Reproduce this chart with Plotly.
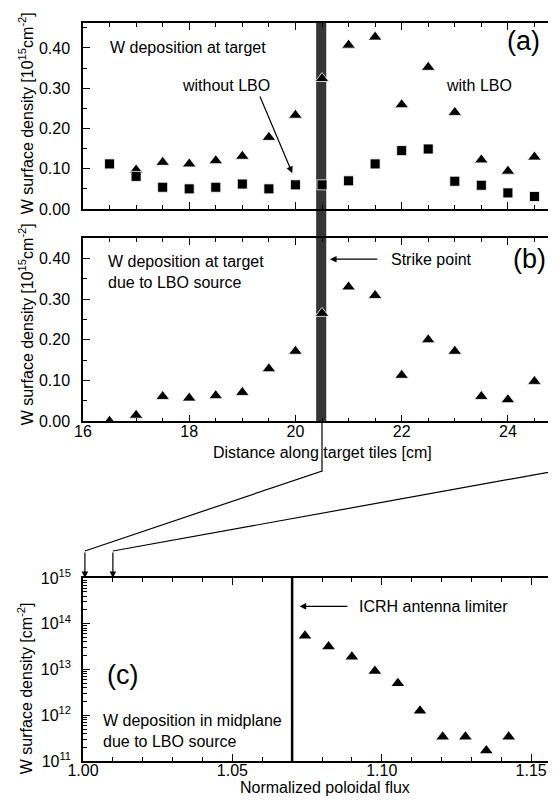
import plotly.graph_objects as go

# ---------------- data ----------------
pos_cm = [16.5, 17.0, 17.5, 18.0, 18.5, 19.0, 19.5, 20.0, 20.5,
          21.0, 21.5, 22.0, 22.5, 23.0, 23.5, 24.0, 24.5]
# panel (a): W deposition at target [1e15 cm^-2]
with_lbo = [None, 0.097, 0.116, 0.112, 0.120, 0.131, 0.178, 0.233, 0.324,
            0.407, 0.427, 0.259, 0.352, 0.240, 0.122, 0.094, 0.129]
without_lbo = [0.112, 0.081, 0.054, 0.050, 0.054, 0.062, 0.050, 0.060, 0.060,
               0.070, 0.112, 0.145, 0.149, 0.069, 0.059, 0.040, 0.031]
# panel (b): deposition due to LBO source
lbo_source = [0.0, 0.015, 0.061, 0.057, 0.063, 0.071, 0.129, 0.172, 0.265,
              0.330, 0.309, 0.113, 0.200, 0.172, 0.061, 0.053, 0.098]
# panel (c): midplane deposition
flux = [1.0743, 1.0822, 1.0900, 1.0977, 1.1054, 1.1128, 1.1204, 1.1280, 1.1350, 1.1425]
midplane = [5.5e13, 3.2e13, 1.9e13, 9.3e12, 5.0e12, 1.25e12, 3.4e11, 3.4e11, 1.7e11, 3.4e11]

strike_band = [20.39, 20.58]
strike_x = 20.5
limiter_flux = 1.07
log_tickvals = [1e11, 1e12, 1e13, 1e14, 1e15]
log_ticktext = ["10<sup>11</sup>", "10<sup>12</sup>", "10<sup>13</sup>",
                "10<sup>14</sup>", "10<sup>15</sup>"]

# ---------------- layout geometry ----------------
W, H = 556, 800
ML, MR, MT, MB = 75, 1, 15, 47
PW, PH = W - ML - MR, H - MT - MB


def px(p):
    return (p - ML) / PW


def py(p):
    return (H - MB - p) / PH


FONT = "Liberation Sans, Arial, Helvetica, sans-serif"
BLACK = "black"

fig = go.Figure()

mk_tri = dict(symbol="triangle-up", size=12, color=BLACK, line=dict(color="white", width=0.8))
mk_sq = dict(symbol="square", size=10, color=BLACK, line=dict(color="white", width=0.8))

fig.add_trace(go.Scatter(x=pos_cm, y=with_lbo, mode="markers", marker=mk_tri,
                         xaxis="x", yaxis="y", name="with LBO"))
fig.add_trace(go.Scatter(x=pos_cm, y=without_lbo, mode="markers", marker=mk_sq,
                         xaxis="x", yaxis="y", name="without LBO"))
fig.add_trace(go.Scatter(x=pos_cm, y=lbo_source, mode="markers", marker=mk_tri,
                         xaxis="x2", yaxis="y2", name="LBO source"))
fig.add_trace(go.Scatter(x=flux, y=midplane, mode="markers",
                         marker=dict(symbol="triangle-up", size=11, color=BLACK),
                         xaxis="x3", yaxis="y3", name="midplane"))

common = dict(showline=True, linecolor=BLACK, linewidth=1.5, mirror="ticks",
              ticks="inside", ticklen=7, tickwidth=1.2, tickcolor=BLACK,
              showgrid=False, zeroline=False,
              tickfont=dict(family=FONT, size=16, color=BLACK))

fig.update_layout(
    width=W, height=H,
    margin=dict(l=ML, r=MR, t=MT, b=MB),
    paper_bgcolor="white", plot_bgcolor="white",
    showlegend=False,
    font=dict(family=FONT, size=16, color=BLACK),
    xaxis=dict(domain=[0, 1], range=[16, 25], anchor="y", tick0=16, dtick=2,
               showticklabels=False,
               minor=dict(dtick=0.5, ticks="inside", ticklen=4, tickcolor=BLACK), **common),
    yaxis=dict(domain=[py(201), 1], range=[0, 0.462], anchor="x", dtick=0.1,
               tickformat=".2f", ticklabelstandoff=8,
               minor=dict(dtick=0.05, ticks="inside", ticklen=4, tickcolor=BLACK), **common),
    xaxis2=dict(domain=[0, 1], range=[16, 25], anchor="y2", tick0=16, dtick=2,
                ticklabelstandoff=-5,
                minor=dict(dtick=0.5, ticks="inside", ticklen=4, tickcolor=BLACK), **common),
    yaxis2=dict(domain=[py(413.3), py(230)], range=[0, 0.45], anchor="x2", dtick=0.1,
                tickformat=".2f", ticklabelstandoff=8,
                minor=dict(dtick=0.05, ticks="inside", ticklen=4, tickcolor=BLACK), **common),
    xaxis3=dict(domain=[0, 1], range=[1.0, 1.16], anchor="y3", dtick=0.05, tick0=1.0,
                tickformat=".2f", ticklabelstandoff=-6,
                minor=dict(dtick=0.01, ticks="inside", ticklen=4, tickcolor=BLACK), **common),
    yaxis3=dict(domain=[0, py(570)], type="log", range=[11, 15], anchor="x3",
                tickvals=log_tickvals, ticktext=log_ticktext, ticklabelstandoff=7,
                minor=dict(dtick="D1", ticks="inside", ticklen=4, tickcolor=BLACK), **common),
)

shapes = []
# strike point band through panels (a) and (b)
shapes.append(dict(type="rect", xref="x", yref="paper", x0=strike_band[0], x1=strike_band[1],
                   y0=py(413.3), y1=1.0, fillcolor="#353535", line=dict(width=0), layer="below"))
# ICRH antenna limiter
shapes.append(dict(type="line", xref="x3", yref="y3 domain", x0=limiter_flux, x1=limiter_flux,
                   y0=0, y1=1, line=dict(color=BLACK, width=2.5)))
fig.update_layout(shapes=shapes)

# connector lines from (b) to (c)
x_sp = px(ML + (strike_x - 16) / 9 * PW)
x_c0 = (1.00 - 1.0) / 0.16 + 0.004
x_c1 = (1.01 - 1.0) / 0.16
fig.add_shape(type="path", xref="paper", yref="paper",
              path=f"M {x_sp},{py(413.3)} L {x_sp},{py(463)} L {x_c0},{py(543)}",
              line=dict(color=BLACK, width=1.2))
fig.add_shape(type="path", xref="paper", yref="paper",
              path=f"M 1.0,{py(413.3)} L 1.0,{py(462)} L {x_c1},{py(543)}",
              line=dict(color=BLACK, width=1.2))

ann = []
for xc in (x_c0, x_c1):
    ann.append(dict(xref="paper", yref="paper", x=xc, y=py(570), ax=0, ay=-27,
                    text="", showarrow=True, arrowhead=2, arrowsize=1.1, arrowwidth=1.2,
                    arrowcolor=BLACK))


def txt(text, x, y, xr, yr, size=16, xanchor="left", yanchor="middle"):
    return dict(text=text, x=x, y=y, xref=xr, yref=yr, showarrow=False,
                xanchor=xanchor, yanchor=yanchor, align="left",
                font=dict(family=FONT, size=size, color=BLACK))


def arrow(x, y, ax, ay, xr, yr):
    return dict(x=x, y=y, ax=ax, ay=ay, xref=xr, yref=yr, axref=xr, ayref=yr,
                text="", showarrow=True, arrowhead=2, arrowsize=1.1, arrowwidth=1.2,
                arrowcolor=BLACK)


# panel (a)
ann.append(txt("W deposition at target", 16.47, 0.400, "x", "y"))
ann.append(txt("without LBO", 17.82, 0.306, "x", "y"))
ann.append(txt("with LBO", 22.79, 0.306, "x", "y"))
ann.append(txt("(a)", 24.29, 0.418, "x", "y", size=27, xanchor="center"))
ann.append(arrow(19.94, 0.089, 19.32, 0.283, "x", "y"))
# panel (b)
ann.append(txt("W deposition at target<br>due to LBO source", 16.43, 0.366, "x2", "y2"))
ann.append(txt("Strike point", 21.76, 0.397, "x2", "y2"))
ann.append(txt("(b)", 24.40, 0.398, "x2", "y2", size=27, xanchor="center"))
ann.append(arrow(20.65, 0.398, 21.57, 0.398, "x2", "y2"))
# panel (c)
ann.append(txt("ICRH antenna limiter", 1.0917, 14.38, "x3", "y3"))
ann.append(arrow(1.0725, 14.38, 1.089, 14.38, "x3", "y3"))
ann.append(txt("(c)", 1.0133, 12.89, "x3", "y3", size=27, xanchor="center"))
ann.append(txt("W deposition in midplane<br>due to LBO source", 1.006, 11.66, "x3", "y3"))

# axis titles
title_font = dict(family=FONT, size=16, color=BLACK)
ann.append(dict(text="W surface density [10<sup>15</sup>cm<sup>-2</sup>]", textangle=-90,
                x=px(18), y=py(105), xref="paper", yref="paper", showarrow=False,
                xanchor="center", yanchor="middle", font=title_font))
ann.append(dict(text="W surface density [10<sup>15</sup>cm<sup>-2</sup>]", textangle=-90,
                x=px(18), y=py(316), xref="paper", yref="paper", showarrow=False,
                xanchor="center", yanchor="middle", font=title_font))
ann.append(dict(text="W surface density [cm<sup>-2</sup>]", textangle=-90,
                x=px(17), y=py(680), xref="paper", yref="paper", showarrow=False,
                xanchor="center", yanchor="middle", font=title_font))
ann.append(dict(text="Distance along target tiles [cm]", x=px(316), y=py(444),
                xref="paper", yref="paper", showarrow=False, xanchor="center", yanchor="middle",
                font=title_font))
ann.append(dict(text="Normalized poloidal flux", x=px(318), y=py(779),
                xref="paper", yref="paper", showarrow=False, xanchor="center", yanchor="middle",
                font=title_font))

fig.update_layout(annotations=ann)

fig.write_html("out.html")
